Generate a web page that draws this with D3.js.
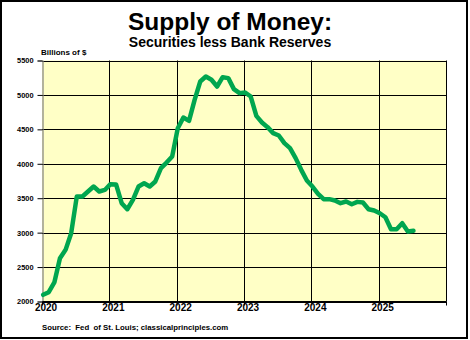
<!DOCTYPE html>
<html>
<head>
<meta charset="utf-8">
<script src="https://cdn.jsdelivr.net/npm/d3@7"></script>
<style>
  html, body { margin: 0; padding: 0; background: #fff; }
  svg { display: block; font-family: Arial, "Liberation Sans", Helvetica, sans-serif; }
  text { white-space: pre; }
</style>
</head>
<body>
<svg id="chart" width="470" height="340"></svg>
<script>
// Monthly values, billions of dollars, starting January 2020
const values2020 = [2097, 2135, 2276, 2629, 2750, 2992, 3525, 3525, 3597, 3670, 3597, 3620];
const values2021 = [3704, 3700, 3428, 3340, 3476, 3670, 3718, 3670, 3743, 3936, 4018, 4106];
const values2022 = [4517, 4672, 4624, 4929, 5195, 5268, 5220, 5122, 5258, 5244, 5084, 5026];
const values2023 = [5036, 4977, 4696, 4600, 4532, 4445, 4411, 4300, 4227, 4082, 3912, 3757];
const values2024 = [3670, 3564, 3486, 3486, 3467, 3428, 3452, 3413, 3447, 3437, 3340, 3321];
const values2025 = [3282, 3224, 3050, 3050, 3137, 3016, 3026];

const yearTicks = [2020, 2021, 2022, 2023, 2024, 2025, 2026];
const yearLabels = ["2020", "2021", "2022", "2023", "2024", "2025"];
const valueTicks = [2000, 2500, 3000, 3500, 4000, 4500, 5000, 5500];

const titleText = "Supply of Money:";
const subtitleText = "Securities less Bank Reserves";
const unitText = "Billions of $";
const sourceText = "Source:  Fed  of St. Louis; classicalprinciples.com";

const series = [values2020, values2021, values2022, values2023, values2024, values2025]
  .flat()
  .map((v, i) => ({ t: 2020 + (i + 0.2) / 12, v }));

const svg = d3.select("#chart");
const W = 470, H = 340;
const m = { left: 42, right: 446, top: 60.5, bottom: 301.5 };

const x = d3.scaleLinear().domain([2020, 2026]).range([m.left, m.right]);
const y = d3.scaleLinear().domain([2000, 5500]).range([m.bottom, m.top]);

// Outer frame
svg.append("rect")
  .attr("x", 1).attr("y", 1).attr("width", 466).attr("height", 337)
  .attr("fill", "#fff").attr("stroke", "#000").attr("stroke-width", 2);

// Plot background
svg.append("rect")
  .attr("x", m.left).attr("y", m.top)
  .attr("width", m.right - m.left).attr("height", m.bottom - m.top)
  .attr("fill", "#ffffc6");

// Horizontal gridlines
svg.append("g")
  .selectAll("line")
  .data(valueTicks.filter(d => d > 2000))
  .join("line")
  .attr("x1", m.left).attr("x2", m.right)
  .attr("y1", d => Math.round(y(d)) + 0.5).attr("y2", d => Math.round(y(d)) + 0.5)
  .attr("stroke", "#000").attr("stroke-width", 1);

// Vertical gridlines
svg.append("g")
  .selectAll("line")
  .data(yearTicks.filter(d => d > 2020))
  .join("line")
  .attr("x1", d => Math.round(x(d)) + 0.5).attr("x2", d => Math.round(x(d)) + 0.5)
  .attr("y1", m.top).attr("y2", m.bottom)
  .attr("stroke", "#000").attr("stroke-width", 1);

// Left axis
const yAxis = d3.axisLeft(y).tickValues(valueTicks).tickSize(5).tickPadding(4)
  .tickFormat(d3.format("d"));
const gy = svg.append("g")
  .attr("transform", `translate(${m.left + 0.5},0)`)
  .call(yAxis);
gy.select(".domain").attr("stroke", "#808080").attr("stroke-width", 1.2);
gy.selectAll(".tick line").attr("stroke", "#000");
gy.selectAll(".tick text")
  .attr("font-size", 7.4).attr("font-weight", "bold").attr("fill", "#000")
  .attr("font-family", "Arial, 'Liberation Sans', sans-serif");

// Bottom axis
const xAxis = d3.axisBottom(x).tickValues(yearTicks).tickSize(4).tickSizeOuter(0)
  .tickFormat((d, i) => yearLabels[i] || "");
const gx = svg.append("g")
  .attr("transform", `translate(0,${m.bottom})`)
  .call(xAxis);
gx.select(".domain").attr("stroke", "#000").attr("stroke-width", 2);
gx.selectAll(".tick line").attr("stroke", "#000");
gx.selectAll(".tick text")
  .attr("font-size", 10).attr("font-weight", "bold").attr("fill", "#000")
  .attr("dx", 3.5).attr("dy", 2.5)
  .attr("font-family", "Arial, 'Liberation Sans', sans-serif");

// Data line
const line = d3.line().x(d => x(d.t)).y(d => y(d.v)).curve(d3.curveLinear);
svg.append("path")
  .datum(series)
  .attr("d", line)
  .attr("fill", "none")
  .attr("stroke", "#00a64f")
  .attr("stroke-width", 4.5)
  .attr("stroke-linejoin", "round")
  .attr("stroke-linecap", "round");

// Titles and notes
svg.append("text")
  .attr("x", 230).attr("y", 30).attr("text-anchor", "middle")
  .attr("font-size", 24.5).attr("font-weight", "bold").text(titleText);
svg.append("text")
  .attr("x", 230).attr("y", 46.5).attr("text-anchor", "middle")
  .attr("font-size", 14).attr("font-weight", "bold").text(subtitleText);
svg.append("text")
  .attr("x", 41).attr("y", 55).attr("font-size", 8).attr("font-weight", "bold").text(unitText);
svg.append("text")
  .attr("x", 42).attr("y", 329.5).attr("font-size", 7.8).attr("font-weight", "bold").text(sourceText);
</script>
</body>
</html>
